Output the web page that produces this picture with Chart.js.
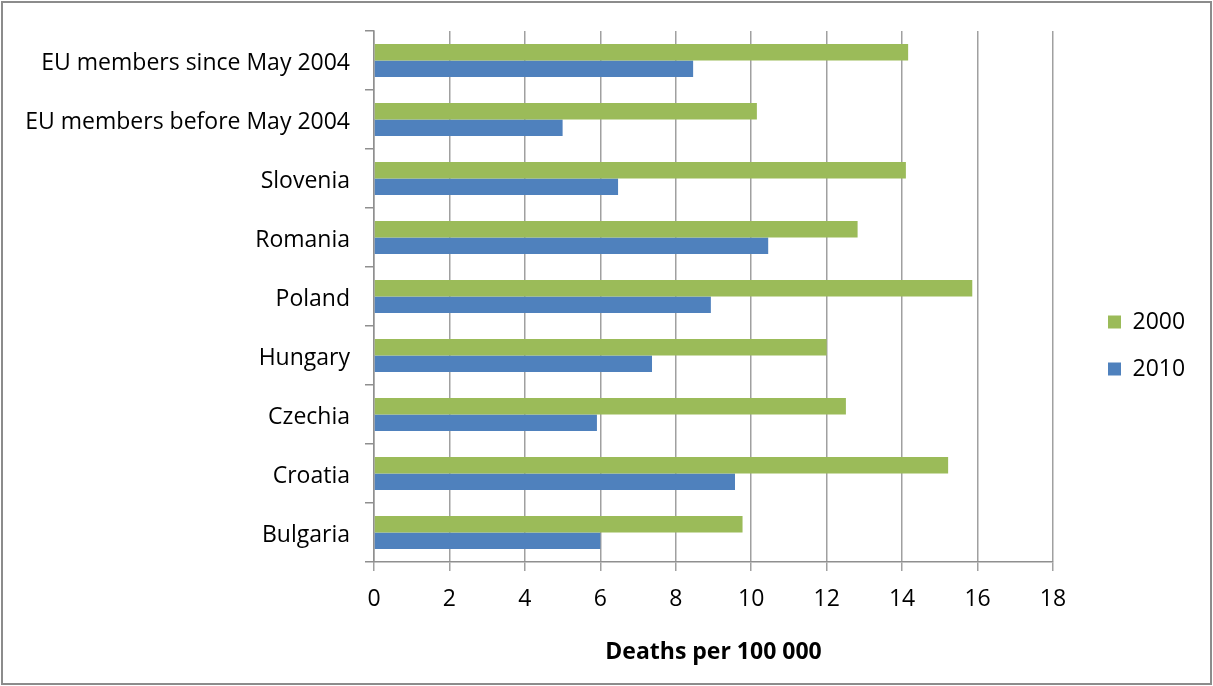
<!DOCTYPE html>
<html>
<head>
<meta charset="utf-8">
<title>Deaths per 100 000</title>
<script src="https://cdn.jsdelivr.net/npm/chart.js@4.4.1/dist/chart.umd.min.js"></script>
<style>
  html, body { margin: 0; padding: 0; background: #fff; }
  #wrap { position: relative; width: 1213px; height: 686px; }
  #frame { position: absolute; left: 1px; top: 1px; width: 1207px; height: 680px; border: 2px solid #8c8c8c; pointer-events: none; }
</style>
</head>
<body>
<div id="wrap">
  <canvas id="myBarChart" width="1213" height="686"></canvas>
  <div id="frame"></div>
</div>
<script>
'use strict';

// categories, bottom to top as in the source sheet
const categories = ["Bulgaria", "Croatia", "Czechia", "Hungary", "Poland", "Romania", "Slovenia",
    "EU members before May 2004", "EU members since May 2004"];
const values2000 = [9.77, 15.22, 12.51, 12.0, 15.86, 12.82, 14.1, 10.15, 14.16];
const values2010 = [6.0, 9.57, 5.91, 7.37, 8.93, 10.45, 6.47, 5.0, 8.46];
const xTicks = [0, 2, 4, 6, 8, 10, 12, 14, 16, 18];

{
    Chart.defaults.font.family = "'Open Sans', sans-serif";
    Chart.defaults.font.size = 23;
    Chart.defaults.color = '#000';

    /**
     * legend on the right: fixed width, items moved into place
     */
    const legendPlace = {
        id: 'legendPlace',
        beforeInit(chart) {
            const fit = chart.legend.fit;
            chart.legend.fit = function () {
                fit.call(this);
                this.width = 158;
            };
        },
        afterLayout(chart) {
            chart.legend.left = 1084;
            chart.legend.top = 7;
        }
    };

    let ctx = document.getElementById("myBarChart");
    let myChart = new Chart(ctx, {
        type: 'bar',
        data: {
            labels: categories,
            datasets: [
                {
                    label: "2000",
                    data: values2000,
                    backgroundColor: "#9bbb59",
                    borderWidth: 0
                },
                {
                    label: "2010",
                    data: values2010,
                    backgroundColor: "#4f81bd",
                    borderWidth: 0
                }
            ]
        },
        options: {
            indexAxis: 'y',
            responsive: false,
            animation: false,
            devicePixelRatio: 1,
            //bar thickness inside each category
            barPercentage: 1,
            categoryPercentage: 0.56,
            layout: {
                padding: { left: 2, right: 2, top: 31, bottom: 2 }
            },
            scales: {
                x: {
                    min: 0,
                    max: 18,
                    afterBuildTicks: (scale) => {
                        scale.ticks = xTicks.map(v => ({ value: v }));
                    },
                    afterFit: (scale) => { scale.height = 122; },
                    grid: {
                        color: '#a0a0a0',
                        lineWidth: 1.5,
                        tickLength: 9
                    },
                    border: { color: '#8f8f8f', width: 1.5 },
                    ticks: { padding: 15 },
                    title: {
                        display: true,
                        text: 'Deaths per 100 000',
                        font: { size: 23, weight: 'bold' },
                        padding: { top: 4, bottom: 18 }
                    }
                },
                y: {
                    reverse: true,
                    afterFit: (scale) => { scale.width = 372; },
                    grid: {
                        drawOnChartArea: false,
                        color: '#8f8f8f',
                        lineWidth: 1.5,
                        tickLength: 9
                    },
                    border: { color: '#8f8f8f', width: 1.5 },
                    ticks: { padding: 15, labelOffset: 3 }
                }
            },
            plugins: {
                legend: {
                    position: 'right',
                    labels: {
                        boxWidth: 13,
                        boxHeight: 13,
                        padding: 24,
                        font: { size: 23 }
                    }
                },
                tooltip: { enabled: false }
            }
        },
        plugins: [legendPlace]
    });
}
</script>
</body>
</html>
